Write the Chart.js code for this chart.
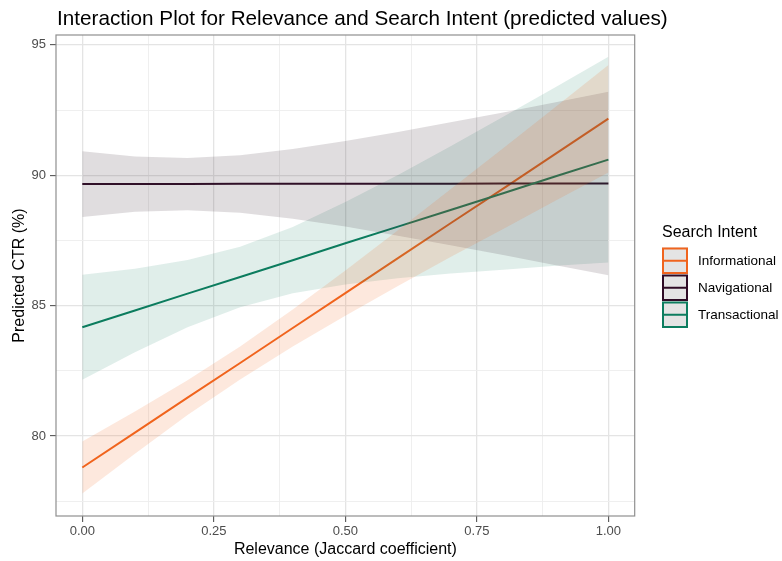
<!DOCTYPE html>
<html><head><meta charset="utf-8">
<script src="https://cdn.jsdelivr.net/npm/chart.js@4.4.1/dist/chart.umd.min.js"></script>
<style>html,body{margin:0;padding:0;background:#fff}#wrap{width:782px;height:561px;position:relative}canvas{display:block}</style>
</head><body><div id="wrap"><canvas id="c" width="782" height="561"></canvas></div>
<script>
// ---- data ----
const relevance = [0, 0.1, 0.2, 0.3, 0.4, 0.5, 0.6, 0.7, 0.8, 0.9, 1.0];
const infoFit  = [78.79, 80.13, 81.47, 82.80, 84.14, 85.48, 86.82, 88.16, 89.49, 90.83, 92.17];
const infoLow  = [77.79, 79.32, 80.80, 82.17, 83.43, 84.61, 85.75, 86.86, 87.94, 89.03, 90.11];
const infoHigh = [79.79, 80.94, 82.14, 83.43, 84.85, 86.35, 87.89, 89.46, 91.04, 92.63, 94.23];
const navFit   = [89.66, 89.66, 89.66, 89.67, 89.67, 89.67, 89.67, 89.67, 89.68, 89.68, 89.68];
const navLow   = [88.40, 88.60, 88.66, 88.56, 88.33, 88.03, 87.68, 87.32, 86.94, 86.55, 86.16];
const navHigh  = [90.92, 90.72, 90.66, 90.77, 91.01, 91.31, 91.66, 92.03, 92.41, 92.80, 93.20];
const transFit = [84.17, 84.81, 85.46, 86.10, 86.74, 87.39, 88.03, 88.67, 89.31, 89.96, 90.60];
const transLow = [82.16, 83.21, 84.17, 84.94, 85.47, 85.81, 86.05, 86.23, 86.38, 86.53, 86.65];
const transHigh= [86.18, 86.41, 86.75, 87.26, 88.02, 88.97, 90.01, 91.11, 92.24, 93.39, 94.55];
const seriesNames = ['Informational', 'Navigational', 'Transactional'];
const xTickValues = [0, 0.25, 0.5, 0.75, 1];
const yTickValues = [80, 85, 90, 95];
const chartTitle = 'Interaction Plot for Relevance and Search Intent (predicted values)';
const xTitle = 'Relevance (Jaccard coefficient)';
const yTitle = 'Predicted CTR (%)';
const legendTitle = 'Search Intent';

// ---- styles ----
const FONT = "'Liberation Sans', Arial, Helvetica, sans-serif";
const colors = ['#F0641E', '#2E0B25', '#0C7D5F'];
const fills  = ['rgba(240,100,30,0.15)', 'rgba(60,45,58,0.16)', 'rgba(12,125,95,0.13)'];

const pts = arr => relevance.map((x, i) => ({x: x, y: arr[i]}));
const fits = [infoFit, navFit, transFit];
const lows = [infoLow, navLow, transLow];
const highs = [infoHigh, navHigh, transHigh];

const datasets = [];
for (let s = 0; s < 3; s++) {
  datasets.push({label: seriesNames[s] + ' upper', data: pts(highs[s]), borderWidth: 0, pointRadius: 0,
    fill: '+1', backgroundColor: fills[s], borderColor: 'rgba(0,0,0,0)', order: 0});
  datasets.push({label: seriesNames[s] + ' lower', data: pts(lows[s]), borderWidth: 0, pointRadius: 0,
    fill: false, borderColor: 'rgba(0,0,0,0)', order: 0});
}
const lineOrder = [12, 11, 10];
for (let s = 0; s < 3; s++) {
  datasets.push({label: seriesNames[s], data: pts(fits[s]), borderWidth: 2, pointRadius: 0,
    fill: false, borderColor: colors[s], order: lineOrder[s]});
}

// minor/major ticks
const xAll = [0, 0.125, 0.25, 0.375, 0.5, 0.625, 0.75, 0.875, 1];
const yAll = [77.5, 80, 82.5, 85, 87.5, 90, 92.5, 95];
const isMajor = (v, majors) => majors.some(m => Math.abs(m - v) < 1e-9);

const decor = {
  id: 'decor',
  afterDraw(chart) {
    const ctx = chart.ctx;
    const a = chart.chartArea;
    ctx.save();
    // panel border
    ctx.strokeStyle = '#8f8f8f';
    ctx.lineWidth = 1.2;
    ctx.strokeRect(a.left, a.top, a.right - a.left, a.bottom - a.top);
    // title
    ctx.fillStyle = '#000';
    ctx.font = '20.7px ' + FONT;
    ctx.textBaseline = 'alphabetic';
    ctx.textAlign = 'left';
    ctx.fillText(chartTitle, 57, 25);
    // legend
    ctx.font = '16px ' + FONT;
    ctx.fillText(legendTitle, 662, 237);
    const boxX = 662, boxW = 26, boxH = 26.5, y0 = 247.5;
    ctx.font = '13.5px ' + FONT;
    for (let s = 0; s < 3; s++) {
      const by = y0 + s * (boxH + 0.5);
      ctx.fillStyle = '#e4e4e4';
      ctx.fillRect(boxX, by, boxW, boxH);
      ctx.strokeStyle = colors[s];
      ctx.lineWidth = 2;
      ctx.strokeRect(boxX + 1, by + 1, boxW - 2, boxH - 2);
      ctx.beginPath();
      ctx.moveTo(boxX + 2, by + boxH / 2);
      ctx.lineTo(boxX + boxW - 2, by + boxH / 2);
      ctx.stroke();
      ctx.fillStyle = '#000';
      ctx.textBaseline = 'middle';
      ctx.fillText(seriesNames[s], 698, by + boxH / 2 + 0.5);
    }
    ctx.restore();
  }
};

new Chart(document.getElementById('c'), {
  type: 'line',
  data: {datasets: datasets},
  plugins: [decor],
  options: {
    responsive: false,
    animation: false,
    devicePixelRatio: 1,
    layout: {padding: {left: 0, right: 147.3, top: 35, bottom: 0}},
    plugins: {legend: {display: false}, tooltip: {enabled: false}, title: {display: false}},
    elements: {line: {tension: 0}},
    scales: {
      x: {
        type: 'linear', min: -0.05, max: 1.05,
        afterBuildTicks: sc => { sc.ticks = xAll.map(v => ({value: v})); },
        afterFit: sc => { sc.height = 45; },
        ticks: {
          autoSkip: false, maxRotation: 0, padding: 2, color: '#4d4d4d',
          font: {family: FONT, size: 13},
          callback: v => isMajor(v, xTickValues) ? Number(v).toFixed(2) : ''
        },
        grid: {
          color: c => isMajor(c.tick.value, xTickValues) ? '#e4e4e4' : '#ededed',
          lineWidth: c => isMajor(c.tick.value, xTickValues) ? 1.3 : 0.9,
          tickColor: c => isMajor(c.tick.value, xTickValues) ? '#444' : 'rgba(0,0,0,0)',
          tickLength: 6, tickWidth: 1
        },
        border: {display: false},
        title: {display: true, text: xTitle, color: '#000', font: {family: FONT, size: 16}, padding: {top: 0, bottom: 2}}
      },
      y: {
        type: 'linear', min: 76.93, max: 95.38,
        afterBuildTicks: sc => { sc.ticks = yAll.map(v => ({value: v})); },
        afterFit: sc => { sc.width = 56; },
        ticks: {
          autoSkip: false, padding: 4, color: '#4d4d4d',
          font: {family: FONT, size: 13},
          callback: v => isMajor(v, yTickValues) ? String(v) : ''
        },
        grid: {
          color: c => isMajor(c.tick.value, yTickValues) ? '#e4e4e4' : '#ededed',
          lineWidth: c => isMajor(c.tick.value, yTickValues) ? 1.3 : 0.9,
          tickColor: c => isMajor(c.tick.value, yTickValues) ? '#444' : 'rgba(0,0,0,0)',
          tickLength: 6, tickWidth: 1
        },
        border: {display: false},
        title: {display: true, text: yTitle, color: '#000', font: {family: FONT, size: 16}, padding: {top: 10, bottom: 0}}
      }
    }
  }
});
</script>
</body></html>
